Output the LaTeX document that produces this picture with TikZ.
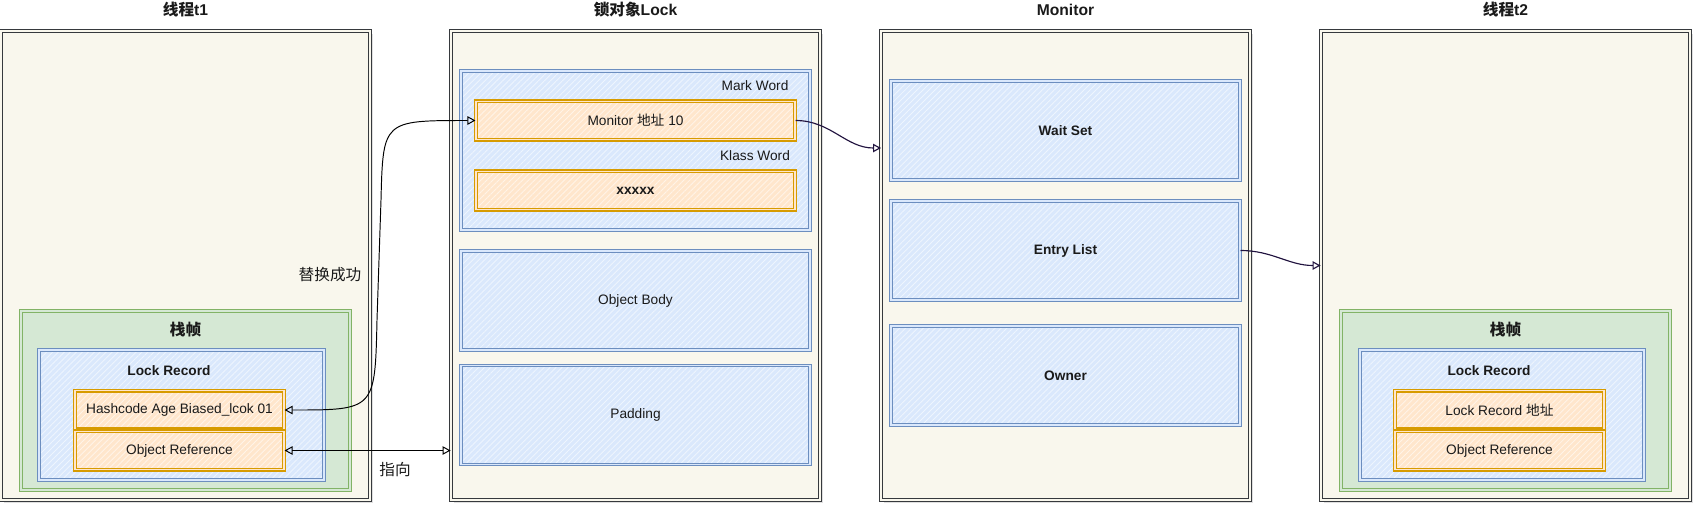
\documentclass[tikz,border=0pt]{standalone}
\usepackage{fontspec}
\setmainfont{Liberation Sans}
\newfontfamily\cjk{Noto Sans CJK SC}
\usetikzlibrary{arrows.meta,shadows,patterns.meta}
\definecolor{threadfill}{HTML}{F9F7ED}
\definecolor{threadline}{HTML}{36393D}
\definecolor{bluefill}{HTML}{DAE8FC}
\definecolor{blueline}{HTML}{6C8EBF}
\definecolor{greenfill}{HTML}{D5E8D4}
\definecolor{greenline}{HTML}{82B366}
\definecolor{orangefill}{HTML}{FFE6CC}
\definecolor{orangeline}{HTML}{D79B00}
\definecolor{linkline}{HTML}{21133F}
\definecolor{inktext}{HTML}{1A1A1A}
\tikzset{
  box/.style={draw, line width=0.55pt, double distance=0.8pt, inner sep=0pt, text=inktext, font=\fontsize{7.8}{9}\selectfont},
  hatch/.style={preaction={fill=#1}, preaction={pattern={Lines[angle=45,distance=2.4pt,line width=0.5pt]}, pattern color=white!55!#1}},
  kthread/.style={box, line width=0.5pt, draw=threadline, double=threadfill, fill=threadfill, minimum width=7.38cm, minimum height=9.38cm,
    drop shadow={shadow xshift=1.5pt, shadow yshift=-1.5pt, opacity=0.25}},
  kframe/.style={box, draw=greenline, double=greenfill, fill=greenfill, minimum width=6.58cm, minimum height=3.58cm},
  krecord/.style={box, draw=blueline, double=bluefill, hatch=bluefill, minimum height=2.60cm},
  kpart/.style={box, draw=blueline, double=bluefill, hatch=bluefill, minimum width=6.98cm, minimum height=1.98cm},
  kfield/.style={box, line width=0.65pt, draw=orangeline, double=orangefill, hatch=orangefill, minimum width=4.18cm, minimum height=0.77cm},
  ktitle/.style={text=inktext, font=\bfseries\fontsize{8.9}{10}\selectfont},
  klabel/.style={text=inktext, font=\fontsize{7.8}{9}\selectfont},
  knote/.style={text=inktext, font=\fontsize{8.9}{10}\selectfont},
  dflow/.style={{Triangle[open, length=1.6mm, width=1.7mm]}-{Triangle[open, length=1.6mm, width=1.7mm]}, line width=0.55pt, black},
  mflow/.style={-{Triangle[open, length=1.6mm, width=1.7mm]}, line width=0.65pt, linkline},
}
\begin{document}
\begin{tikzpicture}
  \useasboundingbox (0,0) rectangle (34.04,-10.24);
  % the four columns
  \node[kthread] (t1) at (3.71,-5.31) {};
  \node[kthread] (lock) at (12.71,-5.31) {};
  \node[kthread] (monitor) at (21.31,-5.31) {};
  \node[kthread] (t2) at (30.11,-5.31) {};
  \node[ktitle] (t1title) at (3.71,-0.20) {{\cjk 线程}t1};
  \node[ktitle] (locktitle) at (12.71,-0.20) {{\cjk 锁对象}Lock};
  \node[ktitle] (monitortitle) at (21.31,-0.20) {Monitor};
  \node[ktitle] (t2title) at (30.11,-0.20) {{\cjk 线程}t2};

  % thread t1 stack frame
  \node[kframe] (t1frame) at (3.71,-8.01) {};
  \node[ktitle] (t1framelabel) at (3.71,-6.60) {\cjk 栈帧};
  \node[krecord, minimum width=5.70cm] (t1rec) at (3.63,-8.30) {};
  \node[klabel, font=\bfseries\fontsize{7.8}{9}\selectfont] (t1reclabel) at (3.38,-7.42) {Lock Record};
  \node[kfield] (hash) at (3.59,-8.20) {Hashcode Age Biased\_lcok 01};
  \node[kfield] (t1ref) at (3.59,-9.01) {Object Reference};

  % lock object
  \node[kpart, minimum height=3.18cm] (header) at (12.71,-3.01) {};
  \node[klabel] (markword) at (15.10,-1.72) {Mark Word};
  \node[kfield, minimum width=6.38cm] (mon10) at (12.71,-2.41) {Monitor {\cjk 地址} 10};
  \node[klabel] (klassword) at (15.10,-3.12) {Klass Word};
  \node[kfield, minimum width=6.38cm, font=\bfseries\fontsize{7.8}{9}\selectfont] (klass) at (12.71,-3.81) {xxxxx};
  \node[kpart] (body) at (12.71,-6.01) {Object Body};
  \node[kpart] (padding) at (12.71,-8.30) {Padding};

  % monitor
  \node[kpart, font=\bfseries\fontsize{7.8}{9}\selectfont] (waitset) at (21.31,-2.61) {Wait Set};
  \node[kpart, font=\bfseries\fontsize{7.8}{9}\selectfont] (entry) at (21.31,-5.01) {Entry List};
  \node[kpart, font=\bfseries\fontsize{7.8}{9}\selectfont] (owner) at (21.31,-7.51) {Owner};

  % thread t2 stack frame
  \node[kframe] (t2frame) at (30.11,-8.01) {};
  \node[ktitle] (t2framelabel) at (30.11,-6.60) {\cjk 栈帧};
  \node[krecord, minimum width=5.68cm] (t2rec) at (30.04,-8.30) {};
  \node[klabel, font=\bfseries\fontsize{7.8}{9}\selectfont] (t2reclabel) at (29.78,-7.42) {Lock Record};
  \node[kfield] (t2addr) at (29.99,-8.20) {Lock Record {\cjk 地址}};
  \node[kfield] (t2ref) at (29.99,-9.01) {Object Reference};

  % links
  \node[knote] (swaplabel) at (6.60,-5.50) {\cjk 替换成功};
  \node[knote] (pointlabel) at (7.90,-9.40) {\cjk 指向};
  \coordinate (swapdown) at (7.54,-6.40);
  \coordinate (swapup) at (7.62,-4.00);
  \coordinate (wsin) at (17.62,-2.96);
  \draw[dflow] (hash.east) .. controls (7.50,-8.20) .. (swapdown) -- (swapup) .. controls (7.66,-2.41) .. (mon10.west);
  \draw[dflow] (t1ref.east) -- (lock.west |- t1ref.east);
  \draw[mflow] (mon10.east) to[out=0, in=180] (wsin);
  \draw[mflow] (entry.east) to[out=0, in=180] (t2.west);
\end{tikzpicture}
\end{document}
